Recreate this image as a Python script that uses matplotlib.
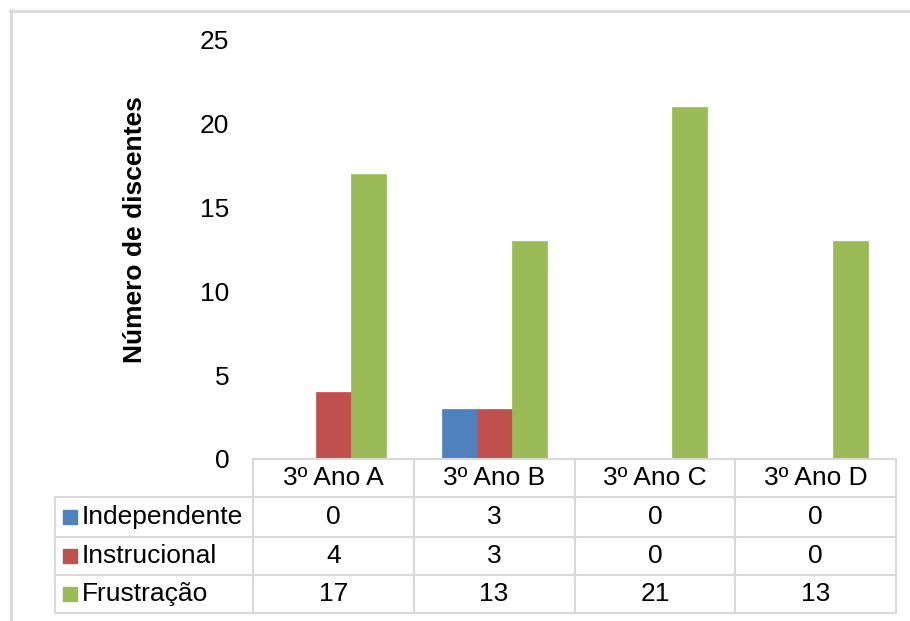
import numpy as np
import matplotlib.pyplot as plt
from matplotlib.lines import Line2D
from matplotlib.patches import Rectangle

plt.rcParams['font.family'] = ['Liberation Sans', 'DejaVu Sans']

# dados
turmas = ['3º Ano A', '3º Ano B', '3º Ano C', '3º Ano D']
series_nomes = ['Independente', 'Instrucional', 'Frustração']
independente = [0, 3, 0, 0]
instrucional = [4, 3, 0, 0]
frustracao = [17, 13, 21, 13]
cores = ['#4F81BD', '#C0504D', '#9BBB59']

W, H = 910, 621
fig = plt.figure(figsize=(W / 100, H / 100), dpi=100)
fig.patch.set_facecolor('white')


def fx(x):
    return x / W


def fy(y):
    return 1 - y / H


# moldura do gráfico (linha superior e esquerda)
fig.add_artist(Line2D([fx(10), fx(910)], [fy(10.5), fy(10.5)], color='#D9D9D9', lw=2))
fig.add_artist(Line2D([fx(10.5), fx(10.5)], [fy(10), fy(621)], color='#D9D9D9', lw=2))

# área de plotagem
x0, x1 = 253, 896
y0, y1 = 459, 40
ax = fig.add_axes([fx(x0), fy(y0), fx(x1) - fx(x0), fy(y1) - fy(y0)])
ax.set_facecolor('none')

valores = [independente, instrucional, frustracao]
x = np.arange(len(turmas))
largura = 0.218
for i, (vals, cor) in enumerate(zip(valores, cores)):
    ax.bar(x + (i - 1) * largura, vals, width=largura, color=cor,
           edgecolor=cor, linewidth=0.5)

ax.set_xlim(-0.5, 3.5)
ax.set_ylim(0, 25)
ax.set_yticks([0, 5, 10, 15, 20, 25])
ax.tick_params(axis='y', length=0, pad=17, labelsize=19)
ax.set_xticks([])
for s in ax.spines.values():
    s.set_visible(False)

fig.text(fx(135), fy(230), 'Número de discentes', rotation=90, fontsize=19,
         fontweight='bold', ha='center', va='center')

# tabela de dados
cinza = '#D9D9D9'
cols = np.linspace(x0, x1, len(turmas) + 1)
linhas = [459, 497, 537, 575, 613]
leg_x = 55

# linhas horizontais
fig.add_artist(Line2D([fx(x0), fx(x1)], [fy(linhas[0])] * 2, color=cinza, lw=1.5))
for yy in linhas[1:]:
    fig.add_artist(Line2D([fx(leg_x), fx(x1)], [fy(yy)] * 2, color=cinza, lw=1.5))
# linhas verticais
fig.add_artist(Line2D([fx(leg_x)] * 2, [fy(linhas[1]), fy(linhas[-1])], color=cinza, lw=1.5))
for xx in cols:
    fig.add_artist(Line2D([fx(xx)] * 2, [fy(linhas[0]), fy(linhas[-1])], color=cinza, lw=1.5))

# cabeçalho
for j, t in enumerate(turmas):
    cx = (cols[j] + cols[j + 1]) / 2
    fig.text(fx(cx), fy((linhas[0] + linhas[1]) / 2), t, fontsize=19,
             ha='center', va='center')

# linhas da tabela com legenda
for i, (nome, vals, cor) in enumerate(zip(series_nomes, valores, cores)):
    cy = (linhas[i + 1] + linhas[i + 2]) / 2
    fig.add_artist(Rectangle((fx(63), fy(cy + 7)), fx(14), fy(0) - fy(14),
                             color=cor, transform=fig.transFigure))
    fig.text(fx(82), fy(cy), nome, fontsize=19, ha='left', va='center')
    for j, v in enumerate(vals):
        cx = (cols[j] + cols[j + 1]) / 2
        fig.text(fx(cx), fy(cy), str(v), fontsize=19, ha='center', va='center')

fig.savefig('out.png', dpi=100)
